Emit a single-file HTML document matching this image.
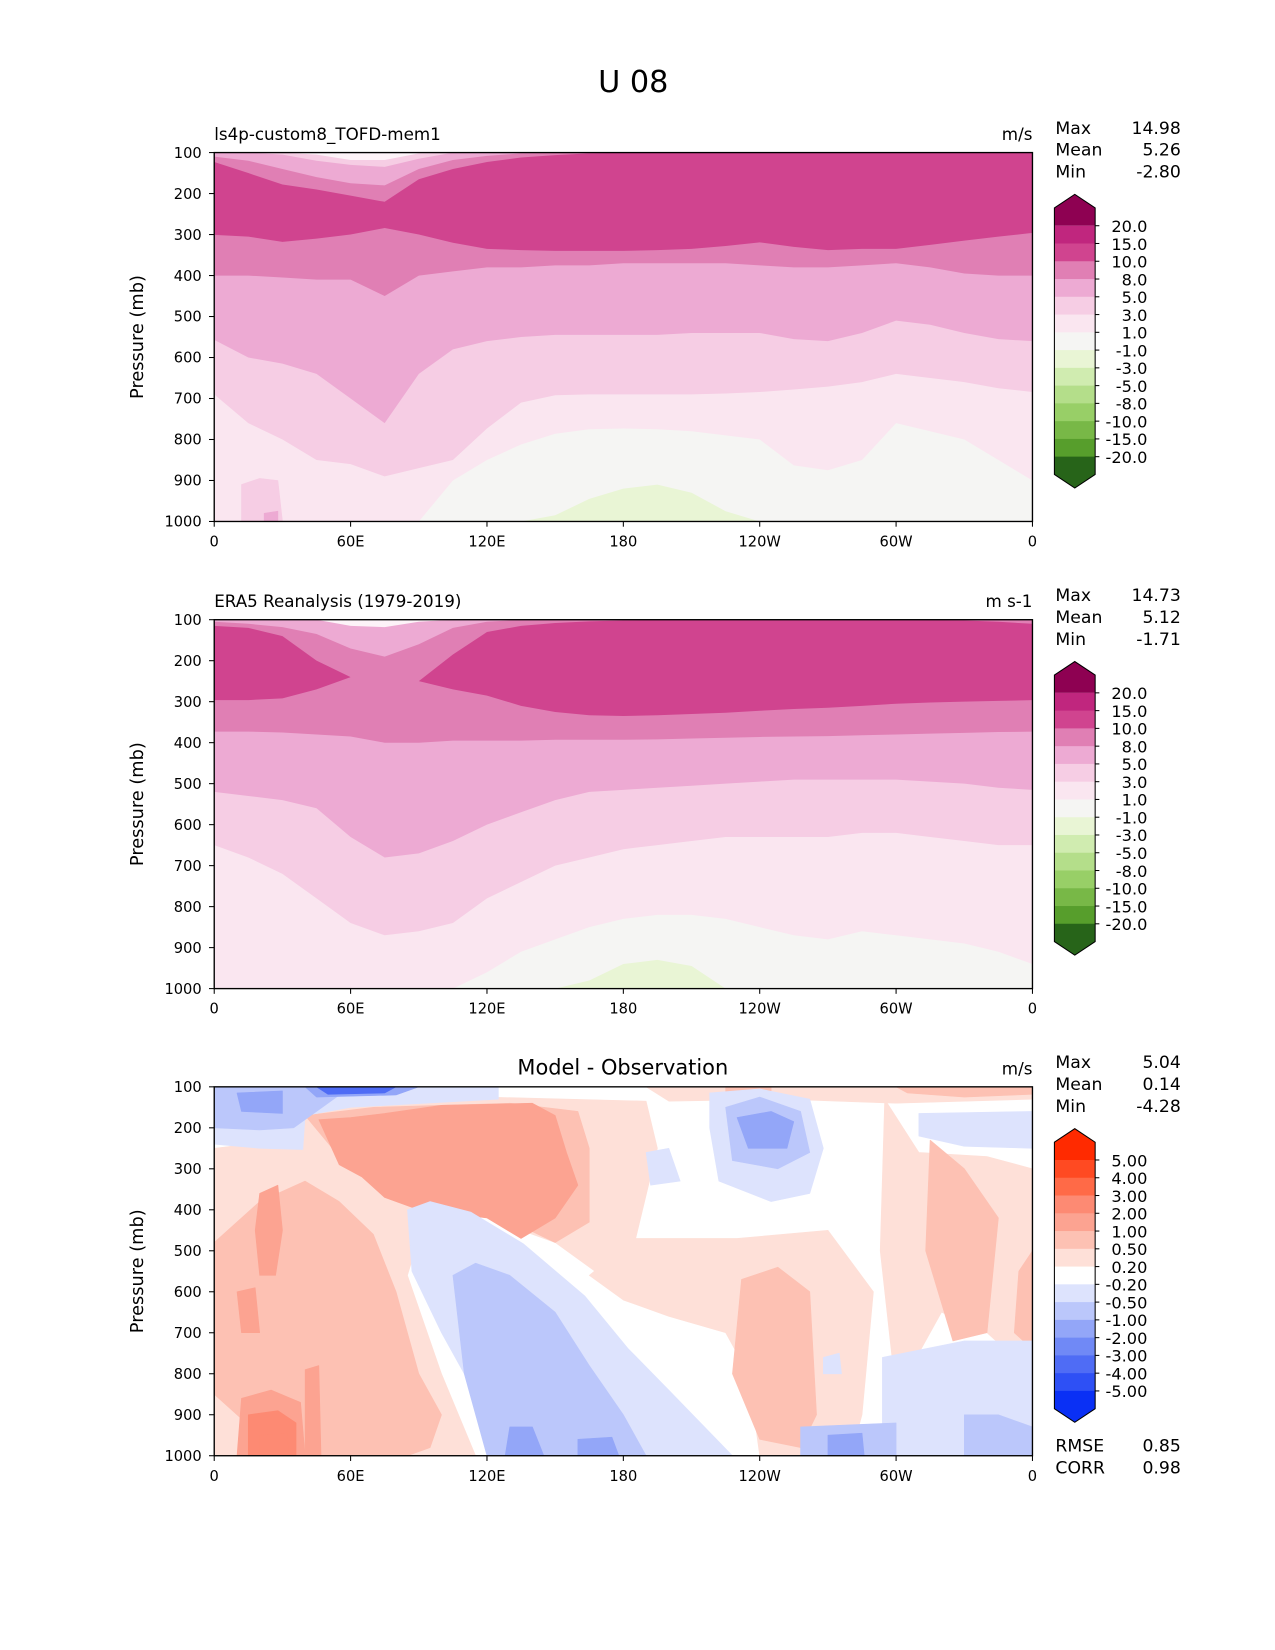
<!DOCTYPE html>
<html><head><meta charset="utf-8"><title>U 08</title>
<style>
html,body{margin:0;padding:0;background:#fff;}
svg{display:block;font-family:"DejaVu Sans","Liberation Sans",sans-serif;}
</style></head>
<body>
<svg id="fig" width="1275" height="1650" viewBox="0 0 1220.1 1578.9" preserveAspectRatio="none" xmlns="http://www.w3.org/2000/svg">
<rect x="0" y="0" width="1221" height="1579" fill="#fff"/>
<text x="606" y="88" font-size="29" text-anchor="middle">U 08</text>
</svg>
<script>
// ---------- data ----------
var U08_LONS = [0,15,30,45,60,75,90,105,120,135,150,165,180,195,210,225,240,255,270,285,300,315,330,345,360];
var U08_PLEVELS = [100,200,300,400,500,600,700,800,900,1000];
var U08_XTICK_LONS = [0,60,120,180,240,300,360];
var U08_XTICK_LABELS = ["0","60E","120E","180","120W","60W","0"];

var U08_FULL_LEVELS = ["20.0","15.0","10.0","8.0","5.0","3.0","1.0","-1.0","-3.0","-5.0","-8.0","-10.0","-15.0","-20.0"];
var U08_FULL_COLORS = ["#8e0152","#c0267e","#d0448f","#e07fb4","#edaad3","#f6cde4","#fae6f0","#f5f5f3","#e9f5d5","#d0ecb0","#b4de8a","#98cf67","#78b847","#579e2c","#276419"];
var U08_DIFF_LEVELS = ["5.00","4.00","3.00","2.00","1.00","0.50","0.20","-0.20","-0.50","-1.00","-2.00","-3.00","-4.00","-5.00"];
var U08_DIFF_COLORS = ["#ff2a00","#ff4a22","#ff6a47","#fd8a73","#fca391","#fdc1b3","#fee0d8","#ffffff","#dde3fd","#bbc7fb","#93a6f8","#7089f6","#4f6cf5","#2e50f5","#0a30f5"];

// panel 1 (model) contour boundaries, pressure (mb) along longitudes
var M_B1  = [1000,1000,1000,1000,1000,1000,1000,900,850,812,786,775,773,775,780,790,800,863,875,850,760,780,800,850,900];
var M_B3  = [690,760,800,850,860,890,870,850,773,710,692,690,690,690,690,688,684,678,671,660,640,650,660,675,684];
var M_B5  = [557,600,615,640,700,760,640,580,560,550,545,545,545,545,540,540,540,555,560,540,510,520,540,555,560];
var M_B8  = [400,400,405,410,410,450,400,390,380,380,375,375,370,370,370,370,375,380,380,375,370,380,395,400,400];
var M_B10 = [301,305,318,310,300,284,300,320,335,338,340,340,340,338,335,328,319,330,338,335,335,325,315,305,296];
var M_T10 = [123,150,178,190,205,220,165,140,123,112,106,102,100,100,100,100,100,100,100,100,100,100,100,100,100];
var M_C2  = [110,120,140,160,175,180,140,118,108,102,100,100,100,100,100,100,100,100,100,100,100,100,100,100,100];
var M_C3  = [100,100,105,120,130,135,115,100,100,100,100,100,100,100,100,100,100,100,100,100,100,100,100,100,100];
var M_C4  = [100,100,100,105,118,118,102,100,100,100,100,100,100,100,100,100,100,100,100,100,100,100,100,100,100];
var M_G   = [1000,1000,1000,1000,1000,1000,1000,1000,1000,1000,985,945,920,910,930,975,1000,1000,1000,1000,1000,1000,1000,1000,1000];

// panel 2 (ERA5)
var O_B1  = [1000,1000,1000,1000,1000,1000,1000,1000,960,910,880,850,830,820,820,830,850,870,880,860,870,880,890,910,940];
var O_B3  = [650,680,720,780,840,870,860,840,780,740,700,680,660,650,640,630,630,630,630,620,620,630,640,650,650];
var O_B5  = [520,530,540,560,630,680,670,640,600,570,540,520,515,510,505,500,495,490,490,490,490,495,500,510,515];
var O_B8  = [373,373,375,380,385,400,400,395,395,395,393,393,393,392,390,388,386,385,384,382,380,378,376,374,373];
var O_B10 = [296,296,292,270,240,240,250,270,285,310,325,333,335,333,330,327,322,318,315,310,305,302,300,298,296];
var O_T10 = [115,120,140,200,240,240,250,185,130,115,108,104,102,100,100,100,100,100,100,100,100,100,102,105,110];
var O_C2  = [105,110,118,135,170,190,160,120,105,100,100,100,100,100,100,100,100,100,100,100,100,100,100,100,100];
var O_C3  = [100,100,100,100,115,118,105,100,100,100,100,100,100,100,100,100,100,100,100,100,100,100,100,100,100];
var O_G   = [1000,1000,1000,1000,1000,1000,1000,1000,1000,1000,1000,980,940,930,945,1000,1000,1000,1000,1000,1000,1000,1000,1000,1000];

// panel 3 (difference) regions as [lon, pressure] outlines
var D_LIGHTPINK = [
  [[0,250],[30,230],[40,140],[120,125],[190,135],[195,250],[185,480],[170,560],[150,480],[120,420],[95,380],[85,560],[100,800],[115,1000],[0,1000]],
  [[165,560],[185,470],[230,470],[270,450],[290,600],[285,900],[280,1000],[240,1000],[235,800],[225,700],[200,660],[180,620]],
  [[295,130],[310,260],[340,270],[360,300],[360,800],[340,700],[320,650],[300,850],[293,500]],
  [[190,100],[360,100],[360,130],[300,140],[250,130],[200,135]]
];
var D_MEDPINK = [
  [[0,480],[20,380],[40,330],[55,380],[70,460],[80,600],[90,800],[100,900],[95,980],[85,1000],[30,1000],[10,900],[0,850]],
  [[40,170],[70,150],[130,140],[160,160],[165,250],[165,430],[150,480],[120,400],[80,300],[55,270]],
  [[232,570],[248,540],[262,600],[265,900],[258,980],[240,960],[228,800]],
  [[315,230],[330,300],[345,420],[340,700],[325,720],[313,500]],
  [[354,550],[360,500],[360,740],[352,700]],
  [[300,100],[360,100],[360,118],[330,125],[305,115]],
  [[225,100],[245,100],[245,115],[225,115]]
];
var D_ORANGE = [
  [[46,180],[60,175],[75,165],[100,145],[140,140],[150,170],[155,260],[160,340],[150,420],[135,470],[120,420],[90,400],[75,370],[65,320],[55,290]],
  [[20,360],[28,340],[30,450],[27,560],[20,560],[18,450]],
  [[10,600],[18,590],[20,700],[12,700]],
  [[40,790],[46,780],[47,1000],[40,1000]],
  [[12,860],[25,840],[38,870],[40,1000],[10,1000]]
];
var D_RED = [
  [[15,900],[28,890],[36,920],[36,1000],[15,1000]],
  [[20,950],[32,945],[33,1000],[20,1000]]
];
var D_LIGHTBLUE = [
  [[0,100],[125,100],[125,130],[60,150],[40,170],[39,253],[20,250],[0,240]],
  [[218,115],[240,105],[262,130],[268,250],[262,360],[245,380],[222,330],[218,200]],
  [[310,165],[360,160],[360,250],[330,245],[310,220]],
  [[85,400],[95,380],[113,406],[136,483],[163,610],[182,738],[200,840],[228,1000],[150,1000],[120,900],[100,700],[87,550]],
  [[294,760],[330,720],[360,720],[360,1000],[294,1000]],
  [[190,260],[200,250],[205,330],[192,340]],
  [[268,760],[275,750],[276,800],[268,800]]
];
var D_MEDBLUE = [
  [[0,100],[60,100],[50,140],[35,200],[20,205],[0,200]],
  [[225,150],[240,125],[258,160],[262,260],[248,300],[228,280]],
  [[105,560],[115,530],[130,560],[150,650],[165,780],[180,900],[190,1000],[120,1000],[110,800]],
  [[330,900],[345,900],[360,930],[360,1000],[330,1000]],
  [[258,930],[300,920],[300,1000],[258,1000]]
];
var D_BLUE = [
  [[10,115],[30,110],[30,165],[12,160]],
  [[40,100],[90,100],[80,120],[45,125]],
  [[230,175],[245,160],[255,185],[252,250],[235,250]],
  [[130,930],[140,930],[145,1000],[128,1000]],
  [[270,950],[285,945],[286,1000],[270,1000]],
  [[160,960],[175,955],[178,1000],[160,1000]]
];
var D_DARKBLUE = [
  [[45,100],[80,100],[75,115],[50,118]]
];
var M_PINKSPOT = [[[12,910],[20,895],[28,900],[30,1000],[12,1000]]];
var M_PINKSPOT2 = [[[22,980],[28,975],[28,1000],[22,1000]]];

var STATS1 = [["Max","14.98"],["Mean","5.26"],["Min","-2.80"]];
var STATS2 = [["Max","14.73"],["Mean","5.12"],["Min","-1.71"]];
var STATS3 = [["Max","5.04"],["Mean","0.14"],["Min","-4.28"]];
var SKILL3 = [["RMSE","0.85"],["CORR","0.98"]];

// ---------- drawing ----------
(function(){
  var SVGNS = "http://www.w3.org/2000/svg";
  var root = document.getElementById("fig");
  var X0 = 205, X1 = 988, PH = 353;
  function xs(lon){ return X0 + lon/360*(X1-X0); }
  function mk(tag, attrs, parent){
    var e = document.createElementNS(SVGNS, tag);
    for (var k in attrs) e.setAttribute(k, attrs[k]);
    (parent||root).appendChild(e);
    return e;
  }
  function txt(s, x, y, size, anchor, parent){
    var t = mk("text", {x:x, y:y, "font-size":size, "text-anchor":anchor||"start", fill:"#000"}, parent);
    t.textContent = s;
    return t;
  }

  function makePanel(idx, ptop, opts){
    function ys(p){ return ptop + (p-100)/900*PH; }
    var g = mk("g", {});
    
    
    var defs = mk("defs", {}, g);
    var clip = mk("clipPath", {id:"clipP"+idx}, defs);
    mk("rect", {x:X0, y:ptop, width:X1-X0, height:PH}, clip);
    var plot = mk("g", {"clip-path":"url(#clipP"+idx+")"}, g);
    
    
    mk("rect", {x:X0, y:ptop, width:X1-X0, height:PH, fill:opts.bg}, plot);
    var TOPL = U08_LONS.map(function(){return 100;}), BOTL = U08_LONS.map(function(){return 1000;});
    function band(upper, lower, color){
      var pts = [], i;
      for (i=0;i<U08_LONS.length;i++) pts.push(xs(U08_LONS[i]).toFixed(1)+","+ys(Math.min(upper[i],1000)).toFixed(1));
      for (i=U08_LONS.length-1;i>=0;i--){
        var lo = Math.max(lower[i], Math.min(upper[i],1000));
        pts.push(xs(U08_LONS[i]).toFixed(1)+","+ys(lo).toFixed(1));
      }
      var pg = mk("polygon", {points:pts.join(" "), fill:color, stroke:"none"}, plot);
      
      
    }
    function blobs(list, color){
      list.forEach(function(poly){
        var pts = poly.map(function(q){ return xs(q[0]).toFixed(1)+","+ys(q[1]).toFixed(1); }).join(" ");
        var pg = mk("polygon", {points:pts, fill:color, stroke:color, "stroke-width":0.6, "stroke-linejoin":"round"}, plot);
        
        
      });
    }
    if (opts.bands) opts.bands.forEach(function(b){ band(b[0]==="top"?TOPL:b[0], b[1]==="bot"?BOTL:b[1], b[2]); });
    if (opts.blobs) opts.blobs.forEach(function(b){ blobs(b[0], b[1]); });
    var fr = mk("rect", {x:X0, y:ptop, width:X1-X0, height:PH, fill:"none", stroke:"#000", "stroke-width":1.3}, g);
    
    
    U08_PLEVELS.forEach(function(p){
      mk("line", {x1:X0-5, x2:X0, y1:ys(p), y2:ys(p), stroke:"#000", "stroke-width":1}, g);
      var t = txt(String(p), X0-12, ys(p)+5, 14, "end", g);
      
      
    });
    U08_XTICK_LONS.forEach(function(l,i){
      mk("line", {x1:xs(l), x2:xs(l), y1:ptop+PH, y2:ptop+PH+5, stroke:"#000", "stroke-width":1}, g);
      var t = txt(U08_XTICK_LABELS[i], xs(l), ptop+PH+24, 14, "middle", g);
      
      
    });
    var yl = txt("Pressure (mb)", 0, 0, 17, "middle", g);
    yl.setAttribute("transform", "translate(137,"+(ptop+PH/2)+") rotate(-90)");
    
    
    var t1;
    if (opts.left){
      t1 = txt(opts.left, X0, ptop-12, 16, "start", g);
      
      
    }
    if (opts.center){
      t1 = txt(opts.center, 596, ptop-12, 20, "middle", g);
      
      
    }
    var u = txt(opts.units, X1, ptop-12, 16, "end", g);
    
    
    opts.stats.forEach(function(s,i){
      var a = txt(s[0], 1010, ptop-18+i*21, 16.5, "start", g);
      
      
      var b = txt(s[1], 1130, ptop-18+i*21, 16.5, "end", g);
      
      
    });
    var cb = mk("g", {}, g);
    
    
    var c0 = ptop + 70, step = 17, L = 1009, R = 1048, n = opts.levels.length, M = (L+R)/2;
    var cols = opts.colors;
    mk("polygon", {points:L+","+(c0-17)+" "+M+","+(c0-30)+" "+R+","+(c0-17)+" "+R+","+c0+" "+L+","+c0, fill:cols[0]}, cb);
    for (var i=0;i<n-1;i++) mk("rect", {x:L, y:c0+i*step, width:R-L, height:step+0.5, fill:cols[i+1]}, cb);
    var cEnd = c0+(n-1)*step;
    mk("polygon", {points:L+","+cEnd+" "+R+","+cEnd+" "+R+","+(cEnd+17)+" "+M+","+(cEnd+30)+" "+L+","+(cEnd+17), fill:cols[n]}, cb);
    mk("polygon", {points:L+","+(c0-17)+" "+M+","+(c0-30)+" "+R+","+(c0-17)+" "+R+","+(cEnd+17)+" "+M+","+(cEnd+30)+" "+L+","+(cEnd+17), fill:"none", stroke:"#000", "stroke-width":1}, cb);
    opts.levels.forEach(function(lv,i){
      mk("line", {x1:R, x2:R+4, y1:c0+i*step, y2:c0+i*step, stroke:"#000", "stroke-width":1}, cb);
      var t = txt(lv, 1098, c0+i*step+6, 15.5, "end", cb);
      
      
    });
    if (opts.skill) opts.skill.forEach(function(s,i){
      var a = txt(s[0], 1010, ptop+PH-4+i*21, 16.5, "start", g);
      
      
      var b = txt(s[1], 1130, ptop+PH-4+i*21, 16.5, "end", g);
      
      
    });
  }

  makePanel(1, 146, {
    bg:"#f5f5f3",
    bands:[
      ["top", M_B1, "#fae6f0"], ["top", M_B3, "#f6cde4"], ["top", M_B5, "#edaad3"],
      ["top", M_B8, "#e07fb4"], [M_T10, M_B10, "#d0448f"],
      ["top", M_C2, "#edaad3"], ["top", M_C3, "#f6cde4"], ["top", M_C4, "#fdf3f8"],
      [M_G, "bot", "#e9f5d5"]
    ],
    blobs:[[M_PINKSPOT,"#f6cde4"],[M_PINKSPOT2,"#edaad3"]],
    left:"ls4p-custom8_TOFD-mem1", units:"m/s", stats:STATS1, levels:U08_FULL_LEVELS, colors:U08_FULL_COLORS
  });
  makePanel(2, 593, {
    bg:"#f5f5f3",
    bands:[
      ["top", O_B1, "#fae6f0"], ["top", O_B3, "#f6cde4"], ["top", O_B5, "#edaad3"],
      ["top", O_B8, "#e07fb4"], [O_T10, O_B10, "#d0448f"],
      ["top", O_C2, "#edaad3"], ["top", O_C3, "#fdf3f8"],
      [O_G, "bot", "#e9f5d5"]
    ],
    left:"ERA5 Reanalysis (1979-2019)", units:"m s-1", stats:STATS2, levels:U08_FULL_LEVELS, colors:U08_FULL_COLORS
  });
  makePanel(3, 1040, {
    bg:"#ffffff",
    blobs:[[D_LIGHTPINK,"#fee0d8"],[D_MEDPINK,"#fdc1b3"],[D_ORANGE,"#fca391"],[D_RED,"#fd8a73"],
           [D_LIGHTBLUE,"#dde3fd"],[D_MEDBLUE,"#bbc7fb"],[D_BLUE,"#93a6f8"],[D_DARKBLUE,"#4f6cf5"]],
    center:"Model - Observation", units:"m/s", stats:STATS3, levels:U08_DIFF_LEVELS, colors:U08_DIFF_COLORS, skill:SKILL3
  });
})();
</script>
</body></html>
